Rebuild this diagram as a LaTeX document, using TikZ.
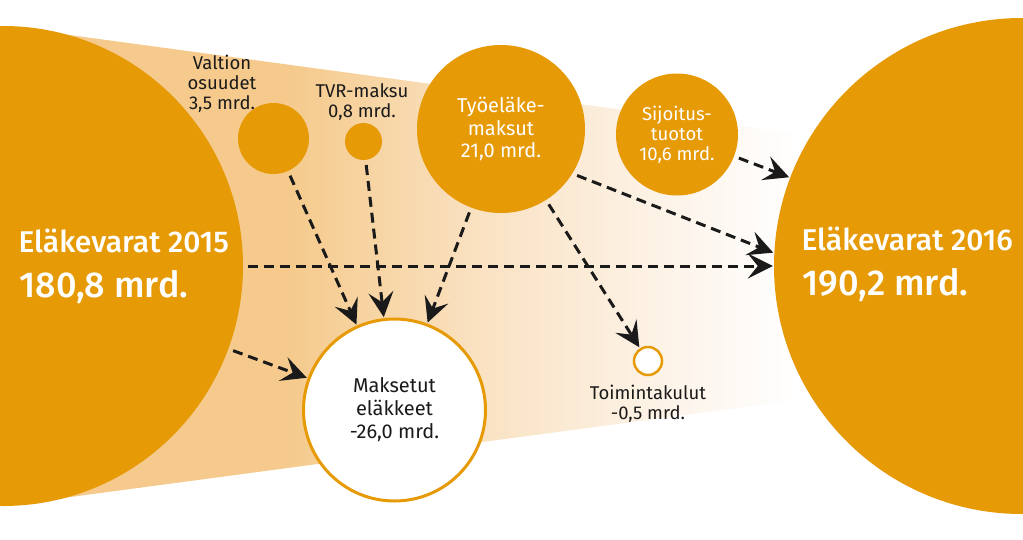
\documentclass[tikz,border=0pt]{standalone}
\usepackage{fontspec}
\setmainfont{Fira Sans}
\newfontfamily\medfont{Fira Sans Medium}
\usetikzlibrary{arrows.meta}
\definecolor{fund}{HTML}{E69A06}
\definecolor{bandl}{HTML}{F5CA8C}
\definecolor{bandm}{HTML}{FAE3C5}
\definecolor{bandr}{HTML}{FDF6EE}
\definecolor{ink}{HTML}{1A1A1A}
\pgfdeclarehorizontalshading{band}{100bp}{color(0bp)=(bandl); color(39bp)=(bandl); color(49bp)=(bandm); color(59bp)=(bandr); color(64bp)=(white); color(100bp)=(white)}
\tikzset{
  big/.style={circle, fill=fund, minimum size=#1, inner sep=0pt},
  src/.style={circle, fill=fund, minimum size=#1, inner sep=0pt, text=white, align=center, font=\fontsize{18.5}{20}\selectfont},
  sink/.style={circle, draw=fund, line width=3pt, fill=white, minimum size=#1, inner sep=0pt, text=ink, align=center, font=\fontsize{20}{23}\selectfont},
  flow/.style={draw=ink, line width=3pt, dash pattern=on 10pt off 6pt, shorten <=5pt, shorten >=1pt, -{Stealth[length=25pt,width=25pt,inset=10pt]}},
  lab/.style={text=ink, align=center, font=\fontsize{18.5}{20}\selectfont},
  biglab/.style={text=white, anchor=base west, font=\medfont\fontsize{30}{34}\selectfont},
  bignum/.style={biglab, font=\medfont\fontsize{36}{40}\selectfont}
}
\begin{document}
\begin{tikzpicture}[x=1pt,y=-1pt]
  \useasboundingbox (0,0) rectangle (1023,539);
  \clip (0,0) rectangle (1023,539);
  % pale band between the two funds
  \shade[shading=band] (3,26) -- (1022,164) -- (1022,370) -- (3,506) -- cycle;

  \node[big=480pt] (e2015) at (3,266) {};
  \node[big=496pt] (e2016) at (1022,266) {};
  \node[biglab] (t2015) at (15,252) {Eläkevarat 2015};
  \node[bignum] (n2015) at (16,297) {180,8 mrd.};
  \node[biglab] (t2016) at (798,250) {Eläkevarat 2016};
  \node[bignum] (n2016) at (799,295) {190,2 mrd.};

  % inflows
  \node[src=71pt] (valtio) at (273.5,138.5) {};
  \node[lab] (lvaltio) at (222,84) {Valtion\\osuudet\\3,5 mrd.};
  \node[src=37pt] (tvr) at (363.5,141.5) {};
  \node[lab] (ltvr) at (362,102) {TVR-maksu\\0,8 mrd.};
  \node[src=168pt, font=\fontsize{20}{22.5}\selectfont] (tyo) at (501,129) {Työeläke-\\maksut\\21,0 mrd.};
  \node[src=122pt] (sijoitus) at (677,134.5) {Sijoitus-\\tuotot\\10,6 mrd.};

  % outflows
  \node[sink=182pt] (maksetut) at (394.5,410) {Maksetut\\eläkkeet\\-26,0 mrd.};
  \node[sink=28pt, line width=2.5pt] (kulut) at (648,361) {};
  \node[lab] (lkulut) at (648,404) {Toimintakulut\\-0,5 mrd.};

  \draw[flow] (valtio) -- (maksetut);
  \draw[flow] (tvr) -- (maksetut);
  \draw[flow] (tyo) -- (maksetut);
  \draw[flow] (tyo) -- (kulut);
  \draw[flow] (tyo.-32) -- (e2016.177);
  \draw[flow] (sijoitus) -- (e2016);
  \draw[flow] (e2015) -- (e2016);
  \draw[flow] (e2015) -- (maksetut);
\end{tikzpicture}
\end{document}
